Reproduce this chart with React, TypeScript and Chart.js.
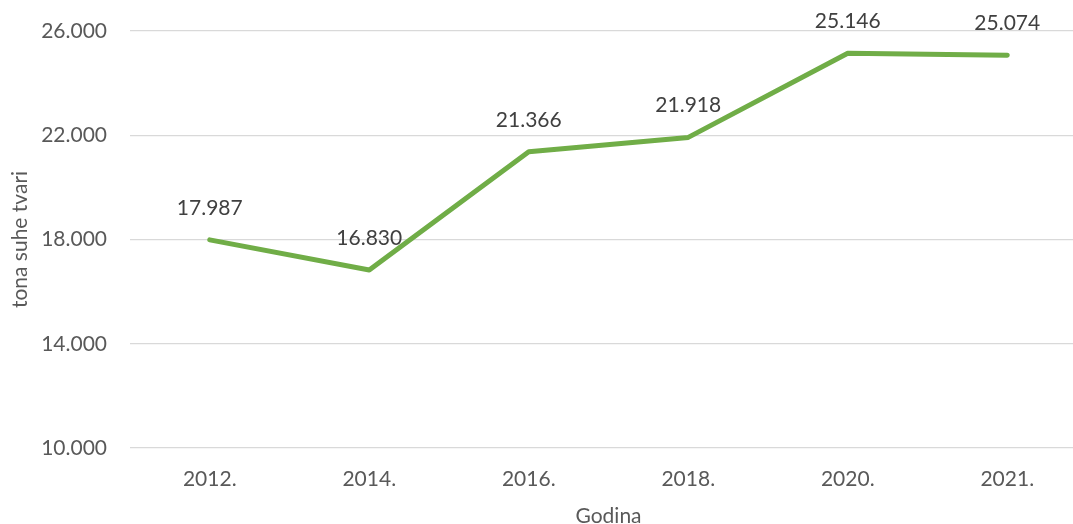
import React, { useEffect, useRef } from "react";
import { Chart, registerables } from "chart.js";

Chart.register(...registerables);

const categories: string[] = ["2012.", "2014.", "2016.", "2018.", "2020.", "2021."];
const values: number[] = [17987, 16830, 21366, 21918, 25146, 25074];
const yTicks: number[] = [10000, 14000, 18000, 22000, 26000];
const yAxisTitle = "tona suhe tvari";
const xAxisTitle = "Godina";

const FONT = "Lato, Carlito, Calibri, sans-serif";

function fmt(v: number): string {
  const s = Math.round(v).toString();
  return s.replace(/\B(?=(\d{3})+(?!\d))/g, ".");
}

const labelPlugin = {
  id: "valueLabels",
  afterDatasetsDraw(chart: any) {
    const { ctx } = chart;
    const meta = chart.getDatasetMeta(0);
    ctx.save();
    ctx.font = `21px ${FONT}`;
    ctx.fillStyle = "#404040";
    ctx.textAlign = "center";
    ctx.textBaseline = "middle";
    meta.data.forEach((pt: any, i: number) => {
      ctx.fillText(fmt(values[i]), pt.x, pt.y - 32);
    });
    ctx.restore();
  },
};

export default function App() {
  const ref = useRef<HTMLCanvasElement | null>(null);
  useEffect(() => {
    document.documentElement.style.overflow = "hidden";
    document.body.style.overflow = "hidden";
    if (!ref.current) return;
    const chart = new Chart(ref.current, {
      type: "line",
      data: {
        labels: categories,
        datasets: [
          {
            data: values,
            borderColor: "#70AD47",
            backgroundColor: "#70AD47",
            borderWidth: 5,
            borderCapStyle: "round",
            borderJoinStyle: "round",
            pointRadius: 0,
            tension: 0,
            fill: false,
          },
        ],
      },
      options: {
        responsive: false,
        maintainAspectRatio: false,
        animation: false,
        devicePixelRatio: 1,
        layout: { padding: { top: 31, right: 0, bottom: 0, left: 0 } },
        plugins: {
          legend: { display: false },
          tooltip: { enabled: false },
        },
        scales: {
          x: {
            offset: true,
            grid: { display: false, drawTicks: false },
            border: { display: false },
            ticks: {
              color: "#595959",
              font: { family: FONT, size: 21 },
              padding: 19,
              maxRotation: 0,
              autoSkip: false,
            },
            title: {
              display: true,
              text: xAxisTitle,
              color: "#595959",
              font: { family: FONT, size: 21 },
              padding: { top: 0, bottom: 1 },
            },
            afterFit: (s: any) => {
              s.height = 82;
              s.paddingLeft = 0;
              s.paddingRight = 0;
            },
          },
          y: {
            min: 10000,
            max: 26000,
            afterBuildTicks: (s: any) => {
              s.ticks = yTicks.map((v) => ({ value: v }));
            },
            grid: { color: "#D9D9D9", lineWidth: 1.3, drawTicks: false },
            border: { display: false },
            ticks: {
              color: "#595959",
              font: { family: FONT, size: 21 },
              padding: 23,
              callback: (v: any) => fmt(Number(v)),
            },
            title: {
              display: true,
              text: yAxisTitle,
              color: "#595959",
              font: { family: FONT, size: 21 },
              padding: { top: 8, bottom: 0 },
            },
            afterFit: (s: any) => {
              s.width = 130;
              s.paddingTop = 0;
              s.paddingBottom = 0;
            },
          },
        },
      },
      plugins: [labelPlugin],
    });
    return () => chart.destroy();
  }, []);
  return (
    <div style={{ position: "fixed", left: 0, top: 0, width: 1087, height: 530 }}>
      <canvas ref={ref} width={1087} height={530} style={{ width: 1087, height: 530, display: "block" }} />
    </div>
  );
}
